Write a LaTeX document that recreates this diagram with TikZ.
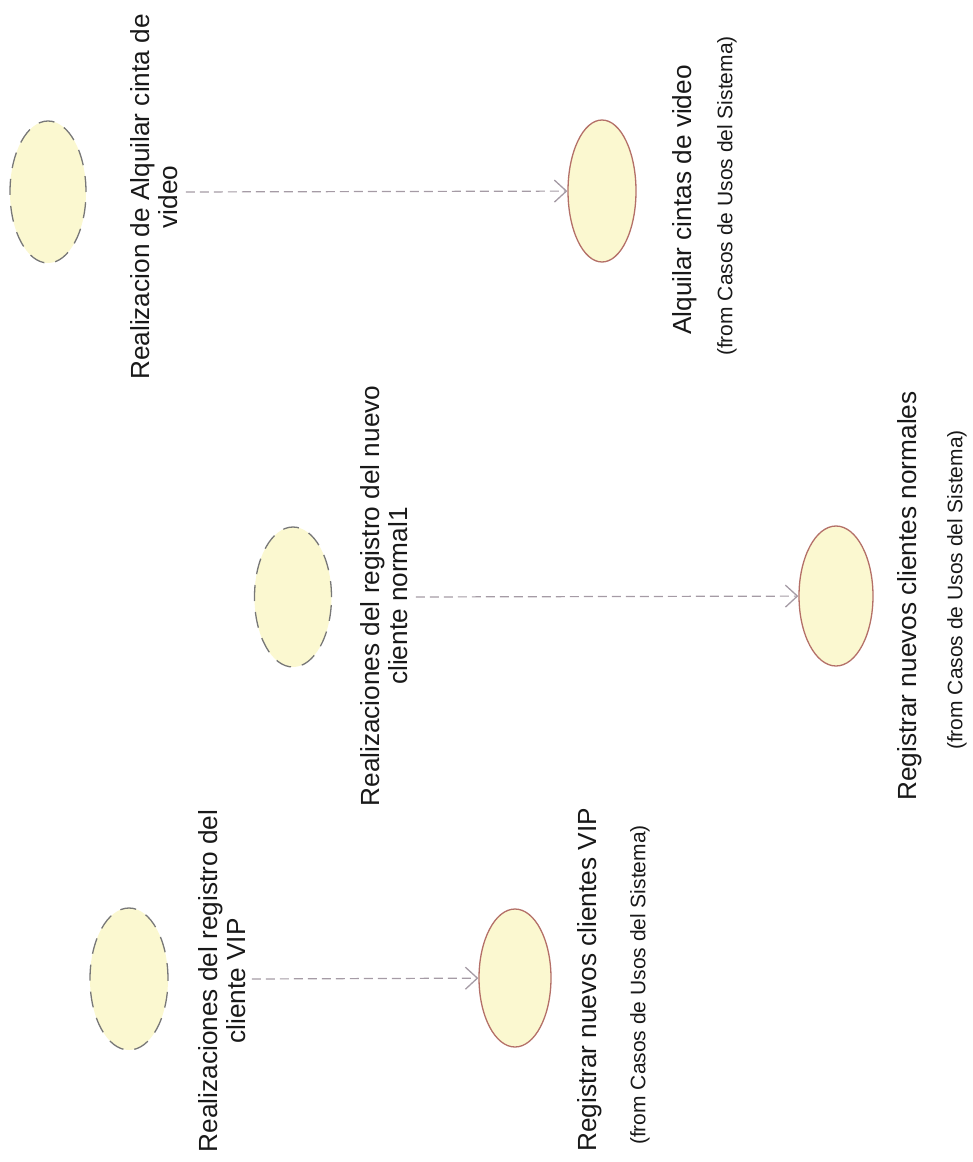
\documentclass[tikz,border=0pt]{standalone}
\usepackage{fontspec}
\setmainfont{Liberation Sans}
\usetikzlibrary{arrows.meta,shapes.geometric}
\definecolor{ucfill}{RGB}{251,248,208}
\definecolor{ucline}{RGB}{180,112,104}
\definecolor{realline}{RGB}{120,120,120}
\definecolor{depline}{RGB}{165,155,165}
\definecolor{ink}{RGB}{25,25,25}
\begin{document}
\begin{tikzpicture}[x=1pt,y=-1pt,
  usecase/.style={ellipse, draw=ucline, fill=ucfill, line width=1.3pt, inner sep=0pt},
  realization/.style={ellipse, draw=realline, fill=ucfill, line width=1.3pt,
    dash pattern=on 16pt off 11pt, inner sep=0pt},
  lbl/.style={rotate=90, align=center, inner sep=0pt, text=ink,
    font=\fontsize{26.2}{28}\selectfont},
  src/.style={rotate=90, inner sep=0pt, text=ink, font=\fontsize{21}{23}\selectfont},
  dep/.style={draw=depline, line width=1.2pt, dash pattern=on 9pt off 5pt,
    -{Straight Barb[length=12pt,width=22pt,line width=1.3pt]}}
]
\useasboundingbox (0,0) rectangle (973,1162);

% Realizacion de Alquilar cinta de video
\node[realization, minimum width=76pt, minimum height=142pt] (rA) at (48,192) {};
\node[lbl] (tA) at (154,197) {Realizacion de Alquilar cinta de\\video};
\node[usecase, minimum width=68pt, minimum height=142pt] (uB) at (602,191) {};
\node[lbl] (tB) at (685,200) {Alquilar cintas de video};
\node[src] (sB) at (727,196) {(from Casos de Usos del Sistema)};

% Registro del nuevo cliente normal
\node[realization, minimum width=77pt, minimum height=140pt] (rC) at (293,597) {};
\node[lbl] (tC) at (384,596) {Realizaciones del registro del nuevo\\cliente normal1};
\node[usecase, minimum width=74pt, minimum height=140pt] (uD) at (836,596) {};
\node[lbl] (tD) at (910,596) {Registrar nuevos clientes normales};
\node[src] (sD) at (957,590) {(from Casos de Usos del Sistema)};

% Registro del cliente VIP
\node[realization, minimum width=78pt, minimum height=142pt] (rE) at (129,979) {};
\node[lbl] (tE) at (222,981) {Realizaciones del registro del\\cliente VIP};
\node[usecase, minimum width=72pt, minimum height=138pt] (uF) at (515,978) {};
\node[lbl] (tF) at (590,980) {Registrar nuevos clientes VIP};
\node[src] (sF) at (640,985) {(from Casos de Usos del Sistema)};

% realization dependencies
\draw[dep, shorten <=8pt] (tA.south |- rA.center) -- (uB);
\draw[dep, shorten <=8pt] (tC.south |- rC.center) -- (uD);
\draw[dep, shorten <=6pt] (tE.south |- rE.center) -- (uF);
\end{tikzpicture}
\end{document}
